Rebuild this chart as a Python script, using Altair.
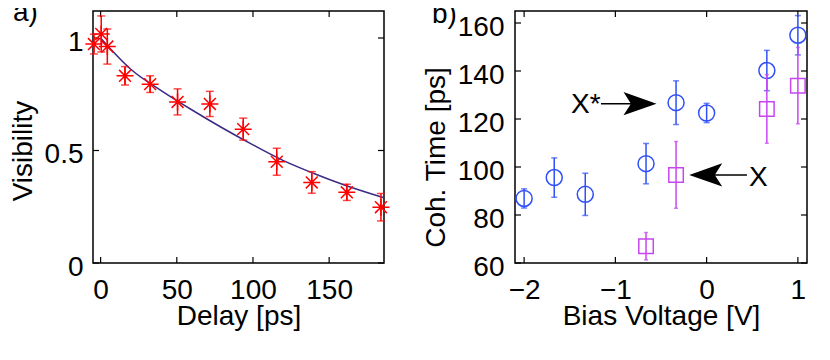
import altair as alt
import pandas as pd

# ---------------- data: panel a) ----------------
delay = [-4.4, 0.4, 4.4, 16.0, 32.5, 50.5, 71.7, 93.6, 115.6, 138.6, 161.6, 184.0]
visibility = [0.973, 1.018, 0.962, 0.832, 0.795, 0.716, 0.707, 0.595, 0.450, 0.358, 0.314, 0.248]
vis_err = [0.044, 0.080, 0.078, 0.041, 0.037, 0.058, 0.056, 0.049, 0.060, 0.048, 0.036, 0.061]
fit_delay = [0, 20, 40, 60, 80, 100, 120, 140, 160, 186]
fit_vis = [1.0, 0.86, 0.765, 0.68, 0.60, 0.525, 0.455, 0.398, 0.347, 0.29]
a_xticks = [0, 50, 100, 150]
a_yticks = [0, 0.5, 1]

# ---------------- data: panel b) ----------------
xs_bias = [-2.0, -1.67, -1.33, -0.664, -0.335, 0.0, 0.66, 1.0]
xs_time = [86.9, 95.6, 88.6, 101.4, 126.8, 122.5, 140.2, 154.9]
xs_err = [4.0, 8.2, 8.8, 8.4, 9.1, 4.0, 8.4, 8.2]
x_bias = [-0.664, -0.335, 0.66, 1.0]
x_time = [67.0, 96.7, 124.2, 133.9]
x_err = [5.7, 13.9, 14.3, 15.9]
b_xticks = [-2, -1, 0, 1]
b_yticks = [60, 80, 100, 120, 140, 160]

ann_text = ["X*", "X"]
ann_x = [-1.486, 0.464]
ann_y = [122.5, 92.1]
arrow_tail = [-1.158, 0.442]
arrow_head = [-0.73, -0.01]
arrow_y = [126.4, 96.7]
arrow_angle = [0, 180]

FONT = "Liberation Sans"
FS = 28
W_A, W_B, H = 291, 292, 252
TICK = 6

RED = "#ff0000"
FIT = "#3b2a84"
BLUE = "#2f4ff8"
MAG = "#c846f2"

ASTERISK = "M-1,0L1,0M0,-1L0,1M-0.7,-0.7L0.7,0.7M-0.7,0.7L0.7,-0.7"
HEAD = "M1,0L-1,-0.7L-0.55,0L-1,0.7Z"


def axis_common(**kw):
    return dict(ticks=False, domain=False, grid=False, labelFont=FONT, titleFont=FONT,
                labelFontSize=FS, titleFontSize=FS, labelColor="black", titleColor="black",
                titleFontWeight="normal", labelFlush=False, labelOverlap=False, **kw)


def make_enc(domain, values, title, fmt, orient, title_x=None, title_y=None):
    kw = axis_common(values=values, title=title, format=fmt)
    if orient == "x":
        kw.update(labelPadding=13, titleY=title_y)
        def f(field):
            return alt.X(f"{field}:Q", scale=alt.Scale(domain=domain, nice=False, zero=False),
                         axis=alt.Axis(**kw))
    else:
        kw.update(labelPadding=title_x[1], labelOffset=4, titleX=title_x[0], titleY=title_y)
        def f(field):
            return alt.Y(f"{field}:Q", scale=alt.Scale(domain=domain, nice=False, zero=False),
                         axis=alt.Axis(**kw))
    return f


def frame_ticks(X, Y, xt, yt, W):
    dx = pd.DataFrame({"x": xt})
    dy = pd.DataFrame({"y": yt})
    r = dict(color="black", strokeWidth=1.2)
    return [
        alt.Chart(dx).mark_rule(**r).encode(x=X("x"), y=alt.value(H), y2=alt.value(H - TICK)),
        alt.Chart(dx).mark_rule(**r).encode(x=X("x"), y=alt.value(0), y2=alt.value(TICK)),
        alt.Chart(dy).mark_rule(**r).encode(y=Y("y"), x=alt.value(0), x2=alt.value(TICK)),
        alt.Chart(dy).mark_rule(**r).encode(y=Y("y"), x=alt.value(W), x2=alt.value(W - TICK)),
    ]


def errbars(xv, yv, ev):
    d = pd.DataFrame({"x": xv, "y": yv,
                      "lo": [a - b for a, b in zip(yv, ev)],
                      "hi": [a + b for a, b in zip(yv, ev)]})
    caps = pd.DataFrame({"x": list(xv) * 2,
                         "y": list(d["lo"]) + list(d["hi"])})
    return d, caps


# ---------------- panel a ----------------
XA = make_enc([-5, 186], a_xticks, "Delay [ps]", "d", "x", title_y=39)
YA = make_enc([0, 1.12], a_yticks, "Visibility", ".1~f", "y", title_x=(-56, 10), title_y=139.5)

da, capa = errbars(delay, visibility, vis_err)
fit_df = pd.DataFrame({"x": fit_delay, "y": fit_vis})

a_layers = frame_ticks(XA, YA, a_xticks, a_yticks, W_A) + [
    alt.Chart(fit_df).mark_line(color=FIT, strokeWidth=1.5, interpolate="monotone").encode(x=XA("x"), y=YA("y")),
    alt.Chart(da).mark_rule(color=RED, strokeWidth=1.5).encode(x=XA("x"), y=YA("lo"), y2="hi:Q"),
    alt.Chart(capa).mark_tick(color=RED, orient="horizontal", size=8, thickness=1.5).encode(x=XA("x"), y=YA("y")),
    alt.Chart(da).mark_point(shape=ASTERISK, size=289, filled=False, color=RED, strokeWidth=1.5, opacity=1).encode(x=XA("x"), y=YA("y")),
    alt.Chart(pd.DataFrame({"t": ["a)"]})).mark_text(font=FONT, fontSize=FS, align="left", baseline="alphabetic", color="black").encode(
        x=alt.value(-80), y=alt.value(10), text="t:N"),
]
panel_a = alt.layer(*a_layers).properties(width=W_A, height=H)

# ---------------- panel b ----------------
XB = make_enc([-2.1, 1.1], b_xticks, "Bias Voltage [V]", "d", "x", title_y=39)
YB = make_enc([60, 165], b_yticks, "Coh. Time [ps]", "d", "y", title_x=(-65, 11), title_y=146)

dc, capc = errbars(xs_bias, xs_time, xs_err)
ds, caps_ = errbars(x_bias, x_time, x_err)
ann_df = pd.DataFrame({"x": ann_x, "y": ann_y, "t": ann_text})
shaft_df = pd.DataFrame({"x": arrow_tail, "xe": arrow_head, "y": arrow_y})
head_df = pd.DataFrame({"x": arrow_head, "y": arrow_y, "angle": arrow_angle})

b_layers = frame_ticks(XB, YB, b_xticks, b_yticks, W_B) + [
    alt.Chart(dc).mark_rule(color=BLUE, strokeWidth=1.5).encode(x=XB("x"), y=YB("lo"), y2="hi:Q"),
    alt.Chart(capc).mark_tick(color=BLUE, orient="horizontal", size=6, thickness=1.5).encode(x=XB("x"), y=YB("y")),
    alt.Chart(dc).mark_point(shape="circle", size=256, filled=False, color=BLUE, strokeWidth=1.5, opacity=1).encode(x=XB("x"), y=YB("y")),
    alt.Chart(ds).mark_rule(color=MAG, strokeWidth=1.5).encode(x=XB("x"), y=YB("lo"), y2="hi:Q"),
    alt.Chart(caps_).mark_tick(color=MAG, orient="horizontal", size=4, thickness=1.5).encode(x=XB("x"), y=YB("y")),
    alt.Chart(ds).mark_point(shape="square", size=210, filled=False, color=MAG, strokeWidth=1.5, opacity=1).encode(x=XB("x"), y=YB("y")),
    alt.Chart(shaft_df).mark_rule(color="black", strokeWidth=1.5).encode(x=XB("x"), x2="xe:Q", y=YB("y")),
    alt.Chart(head_df).mark_point(shape=HEAD, size=1089, filled=True, color="black", opacity=1).encode(
        x=XB("x"), y=YB("y"), angle=alt.Angle("angle:Q", scale=None)),
    alt.Chart(ann_df).mark_text(font=FONT, fontSize=FS, align="left", baseline="alphabetic", color="black").encode(
        x=XB("x"), y=YB("y"), text="t:N"),
    alt.Chart(pd.DataFrame({"t": ["b)"]})).mark_text(font=FONT, fontSize=FS, align="left", baseline="alphabetic", color="black").encode(
        x=alt.value(-83), y=alt.value(12), text="t:N"),
]
panel_b = alt.layer(*b_layers).properties(width=W_B, height=H)

chart = alt.hconcat(panel_a, panel_b, spacing=27).properties(
    padding={"left": 0, "top": -10, "right": 0, "bottom": 0},
    background="white",
).configure_view(stroke="black", strokeWidth=1.5)

chart.save("out.html", embed_options={"renderer": "svg", "actions": False})
